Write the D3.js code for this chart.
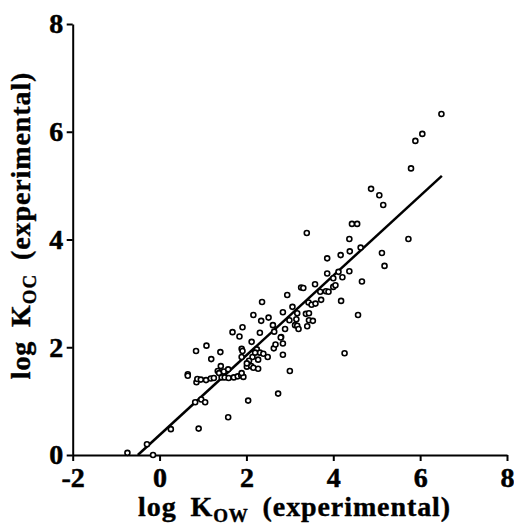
<!doctype html>
<html>
<head>
<meta charset="UTF-8">
<title>log Koc vs log Kow</title>
<script src="https://cdnjs.cloudflare.com/ajax/libs/d3/7.8.5/d3.min.js"></script>
<style>
  body { margin: 0; background: #fff; }
  svg text { font-family: "Liberation Serif", "DejaVu Serif", serif; font-weight: bold; fill: #000; }
</style>
</head>
<body>
<script>
// data
var kow = [-0.74,-0.29,-0.15,0.26,0.90,1.58,2.04,2.73,3.00,4.26,
  0.82,0.96,1.05,
  0.65,0.65,0.85,0.87,0.95,1.07,1.18,1.25,1.34,1.37,1.43,1.50,1.48,1.58,1.59,1.71,1.80,1.88,1.93,1.89,
  1.41,2.01,2.11,2.16,2.27,
  1.19,1.89,2.14,2.06,2.01,2.27,
  1.08,0.84,1.40,2.12,1.89,1.91,2.24,2.31,2.20,2.39,2.49,2.63,2.67,
  2.84,2.84,2.80,
  1.91,1.68,1.84,2.31,2.64,2.79,
  2.16,2.34,2.51,2.61,2.36,
  2.89,2.99,2.84,2.94,3.06,
  3.12,3.17,3.40,3.20,3.15,3.44,3.53,3.17,3.37,3.44,
  3.43,3.50,3.59,3.72,4.18,4.57,
  3.26,3.31,3.58,3.70,3.83,3.89,4.00,4.05,4.66,
  4.00,4.21,3.86,4.12,4.37,
  3.86,4.17,4.38,4.63,4.37,5.12,5.18,5.73,
  3.39,4.43,4.55,
  4.87,5.06,5.15,5.79,5.89,6.05,6.49];
var koc = [0.04,0.20,0.00,0.48,0.49,0.70,1.01,1.14,1.56,1.89,
  0.98,1.03,0.98,
  1.50,1.47,1.35,1.41,1.40,1.39,1.42,1.43,1.56,1.52,1.44,1.44,1.55,1.59,1.43,1.44,1.46,1.48,1.45,1.52,
  1.65,1.64,1.65,1.62,1.60,
  1.78,1.82,1.82,1.75,1.70,1.77,
  2.03,1.93,1.91,2.10,1.97,1.93,1.96,1.90,1.90,1.88,1.82,1.98,2.05,
  2.07,1.86,2.19,
  2.37,2.28,2.20,2.27,2.29,2.18,
  2.60,2.49,2.55,2.41,2.84,
  2.34,2.50,2.65,2.97,2.75,
  2.41,2.40,2.39,2.34,2.52,2.50,2.49,2.63,2.62,2.63,
  2.83,2.79,2.81,2.88,2.86,2.60,
  3.11,3.10,3.17,3.03,3.04,3.03,3.12,3.15,3.22,
  3.28,3.30,3.37,3.40,3.41,
  3.65,3.71,3.78,3.85,4.01,3.75,3.51,4.01,
  4.12,4.29,4.29,
  4.94,4.82,4.64,5.32,5.83,5.96,6.33];
// regression line ends
var fitX = [-0.5, 6.5];
var fitY = [0, 5.18];
var xTicks = [-2, 0, 2, 4, 6, 8];
var yTicks = [0, 2, 4, 6, 8];

var w = 514, h = 525;
var x = d3.scaleLinear().domain([-2, 8]).range([72.7, 507]);
var y = d3.scaleLinear().domain([0, 8]).range([455, 24]);

var svg = d3.select("body").append("svg")
    .attr("width", w)
    .attr("height", h);

// axes
var fmt = function(d){ return String(d); };   // plain hyphen like the original
svg.append("g")
    .attr("transform", "translate(" + x(-2) + ",0)")
    .call(d3.axisLeft(y).tickValues(yTicks).tickFormat(fmt).tickSize(6).tickSizeOuter(0).tickPadding(3.5));
svg.append("g")
    .attr("transform", "translate(0," + y(0) + ")")
    .call(d3.axisBottom(x).tickValues(xTicks).tickFormat(fmt).tickSize(6).tickSizeOuter(0).tickPadding(6));

svg.selectAll(".domain, .tick line")
    .attr("stroke", "#000")
    .attr("stroke-width", 2);
svg.selectAll(".tick text")
    .style("font-size", "28px")
    .style("font-family", "'Liberation Serif', serif")
    .style("font-weight", "bold")
    .attr("stroke", "#000")
    .attr("stroke-width", 0.5);

// fit line
var pts = fitX.map(function(d, i){ return [d, fitY[i]]; });
svg.append("path")
    .attr("d", d3.line().x(function(d){ return x(d[0]); }).y(function(d){ return y(d[1]); })(pts))
    .attr("fill", "none")
    .attr("stroke", "#000")
    .attr("stroke-width", 2.5);

// points
svg.append("g").selectAll("circle")
    .data(kow)
    .enter().append("circle")
    .attr("cx", function(d){ return x(d); })
    .attr("cy", function(d, i){ return y(koc[i]); })
    .attr("r", 2.5)
    .attr("fill", "#fff")
    .attr("stroke", "#000")
    .attr("stroke-width", 1.6);

// axis titles
function title(t, sub){
    t.attr("text-anchor", "middle")
        .style("font-size", "28px")
        .style("letter-spacing", "0.9px")
        .style("word-spacing", "6px")
        .attr("stroke", "#000")
        .attr("stroke-width", 0.4);
    t.append("tspan").text("log K");
    t.append("tspan").attr("dy", 6).style("font-size", "19px").text(sub);
    t.append("tspan").attr("dy", -6).text(" (experimental)");
}
title(svg.append("text").attr("x", 294.5).attr("y", 516), "OW");
title(svg.append("text").attr("transform", "translate(30,225.5) rotate(-90)"), "OC");
</script>
</body>
</html>
